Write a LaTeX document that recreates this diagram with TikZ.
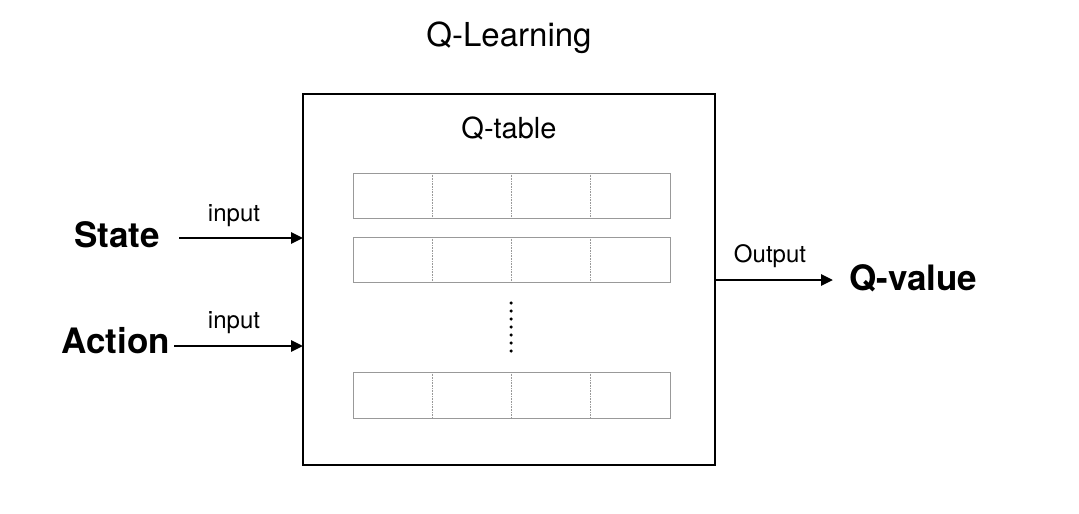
\documentclass[tikz,border=0pt]{standalone}
\usepackage{fontspec}
\setmainfont{TeX Gyre Heros}
\usetikzlibrary{arrows.meta}
\begin{document}
\begin{tikzpicture}[x=1pt,y=-1pt,
  rowbox/.style={draw=black!40,line width=1pt},
  divider/.style={draw=black!40,line width=0.6pt,densely dotted},
  arr/.style={line width=2.8pt,-{Triangle[length=12pt,width=11pt]}},
  biglabel/.style={font=\fontsize{35}{38}\selectfont\bfseries,inner sep=0pt},
  smalllabel/.style={font=\fontsize{24}{27}\selectfont,inner sep=0pt},
  dotmark/.style={fill=black,circle,inner sep=0pt,minimum size=3.5pt}]
\useasboundingbox (0,0) rectangle (1079,514);
\fill[white] (0,0) rectangle (1079,514);
\node[font=\fontsize{33}{36}\selectfont,inner sep=0pt] (title) at (509,38) {Q-Learning};
\draw[line width=1.3pt] (303,94) rectangle (715,465);
\coordinate (boxW1) at (303,238);
\coordinate (boxW2) at (303,346);
\coordinate (boxE) at (715,280);
\node[font=\fontsize{29}{32}\selectfont,inner sep=0pt] (qtable) at (509,128) {Q-table};
\foreach \t/\b in {173/218,237/282,372/418}{
  \draw[rowbox] (353,\t) rectangle (670,\b);
  \foreach \x in {432,511,590}{
    \draw[divider] (\x,\t) -- (\x,\b);
  }
}
\foreach \i in {0,...,6}{
  \node[dotmark] at (511,{303+8*\i}) {};
}
\node[biglabel,anchor=east] (state) at (160,235) {State};
\node[biglabel,anchor=east] (action) at (170,341) {Action};
\node[biglabel,anchor=west] (qvalue) at (849,278) {Q-value};
\draw[arr] (state.east |- boxW1) ++(19,0) coordinate (s0) -- (boxW1);
\draw[arr] (action.east |- boxW2) ++(4,0) coordinate (a0) -- (boxW2);
\draw[arr] (boxE) -- ([xshift=-16pt]qvalue.west |- boxE);
\node[smalllabel] (in1) at (234,216) {input};
\node[smalllabel] (in2) at (234,323) {input};
\node[smalllabel] (out) at (770,256) {Output};
\end{tikzpicture}
\end{document}
